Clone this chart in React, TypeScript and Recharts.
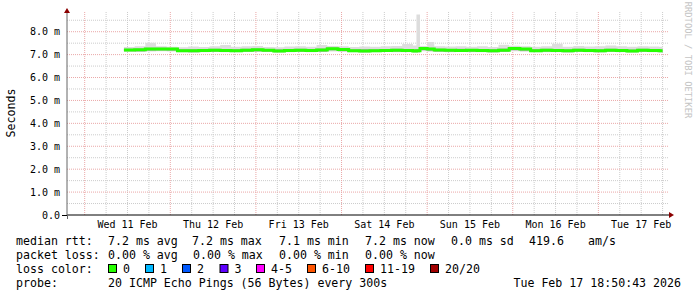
import { ComposedChart, Area, Line, XAxis, YAxis, CartesianGrid } from 'recharts'

// hours since Wed 11 Feb 00:00
const hours = [
  11, 14, 17, 20, 23, 26, 29, 32, 35, 38, 41, 44, 47, 50, 53, 56, 59, 62, 65, 68, 71, 74, 77, 80, 83, 86, 89, 92,
  93, 94, 96, 98,
  101, 104, 107, 110, 113, 116, 119, 122, 125, 128, 131, 134, 137, 140, 143, 146, 149, 152, 155, 158, 161, 162,
]

// median rtt in ms
const median = [
  7.2, 7.21, 7.24, 7.25, 7.24, 7.17, 7.17, 7.18, 7.19, 7.18, 7.17, 7.19, 7.21, 7.19, 7.16, 7.18, 7.19, 7.18, 7.2, 7.26, 7.22, 7.17, 7.16, 7.17, 7.18, 7.19, 7.18, 7.16,
  7.17, 7.27, 7.24, 7.2,
  7.19, 7.18, 7.19, 7.18, 7.17, 7.19, 7.27, 7.24, 7.17, 7.19, 7.18, 7.17, 7.19, 7.18, 7.17, 7.19, 7.18, 7.16, 7.19, 7.18, 7.17, 7.17,
]

// outer smoke (min / max of the 20 pings)
const smokeHi = [
  7.33, 7.36, 7.52, 7.36, 7.34, 7.32, 7.35, 7.33, 7.36, 7.42, 7.34, 7.37, 7.38, 7.33, 7.32, 7.35, 7.37, 7.34, 7.42, 7.38, 7.36, 7.33, 7.35, 7.34, 7.36, 7.38, 7.46, 7.4,
  8.75, 7.38, 7.55, 7.36,
  7.35, 7.37, 7.34, 7.36, 7.33, 7.43, 7.39, 7.36, 7.34, 7.36, 7.47, 7.34, 7.38, 7.35, 7.36, 7.4, 7.36, 7.34, 7.37, 7.35, 7.34, 7.34,
]
const smokeLo = [
  7.13, 7.12, 7.14, 7.15, 7.14, 7.1, 7.09, 7.1, 7.11, 7.1, 7.1, 7.11, 7.12, 7.11, 7.09, 7.1, 7.11, 7.1, 7.11, 7.14, 7.13, 7.1, 7.09, 7.1, 7.11, 7.1, 7.1, 7.09,
  7.09, 7.15, 7.13, 7.12,
  7.1, 7.11, 7.1, 7.1, 7.09, 7.11, 7.15, 7.13, 7.1, 7.1, 7.1, 7.09, 7.11, 7.1, 7.1, 7.11, 7.1, 7.09, 7.11, 7.1, 7.1, 7.1,
]

// inner (darker) smoke
const innerHi = [
  7.26, 7.27, 7.3, 7.3, 7.29, 7.24, 7.25, 7.23, 7.26, 7.24, 7.25, 7.26, 7.27, 7.24, 7.23, 7.25, 7.26, 7.24, 7.27, 7.31, 7.28, 7.23, 7.24, 7.23, 7.25, 7.26, 7.25, 7.23,
  7.24, 7.32, 7.3, 7.26,
  7.25, 7.26, 7.25, 7.24, 7.23, 7.27, 7.32, 7.29, 7.24, 7.26, 7.25, 7.23, 7.26, 7.24, 7.23, 7.26, 7.25, 7.22, 7.26, 7.24, 7.23, 7.23,
]
const innerLo = [
  7.15, 7.14, 7.17, 7.18, 7.17, 7.11, 7.1, 7.12, 7.13, 7.11, 7.11, 7.13, 7.14, 7.12, 7.1, 7.12, 7.12, 7.11, 7.13, 7.19, 7.15, 7.11, 7.1, 7.11, 7.12, 7.12, 7.12, 7.1,
  7.1, 7.19, 7.16, 7.13,
  7.12, 7.12, 7.12, 7.11, 7.1, 7.12, 7.19, 7.16, 7.11, 7.12, 7.11, 7.1, 7.12, 7.11, 7.1, 7.12, 7.11, 7.1, 7.12, 7.11, 7.1, 7.1,
]

const dayTicks = [12, 36, 60, 84, 108, 132, 156]
const dayLabels = ['Wed 11 Feb', 'Thu 12 Feb', 'Fri 13 Feb', 'Sat 14 Feb', 'Sun 15 Feb', 'Mon 16 Feb', 'Tue 17 Feb']
const midnights = [0, 24, 48, 72, 96, 120, 144]
const sixHours = [6, 12, 18, 30, 36, 42, 54, 60, 66, 78, 84, 90, 102, 108, 114, 126, 132, 138, 150, 156, 162]
const yTicks = [0, 1, 2, 3, 4, 5, 6, 7, 8]
const yMajor = [1, 2, 3, 4, 5, 6, 7, 8]
const yMinor = [0.5, 1.5, 2.5, 3.5, 4.5, 5.5, 6.5, 7.5, 8.5]

const lossLabels = ['0', '1', '2', '3', '4-5', '6-10', '11-19', '20/20']
const lossColors = ['#26ff00', '#00b8ff', '#0059ff', '#5e00ff', '#ff00ff', '#ff5500', '#ff0000', '#a10000']

const rtt = ['7.2 ms avg', '7.2 ms max', '7.1 ms min', '7.2 ms now', '0.0 ms sd', '419.6', 'am/s']
const loss = ['0.00 % avg', '0.00 % max', '0.00 % min', '0.00 % now']

const data = hours.map((t, i) => ({
  t,
  median: median[i],
  smoke: [smokeLo[i], smokeHi[i]],
  inner: [innerLo[i], innerHi[i]],
}))

const mono = 'DejaVu Sans Mono'

// x positions of legend columns
const rttX = [108, 192, 279, 365, 451, 529, 588]
const lossX = [108, 193, 279, 365]
const boxX = [108, 145, 182, 219.5, 256, 307, 365, 430]

const App = () => {
  return (
    <div style={{ position: 'absolute', left: 0, top: 0, width: 697, height: 297, background: '#fff' }}>
      <ComposedChart width={697} height={297} data={data} margin={{ top: 12, right: 28, bottom: 52, left: 0 }}>
        <CartesianGrid horizontal={false} verticalValues={sixHours} stroke="#cccccc" strokeDasharray="1 1" />
        <CartesianGrid vertical={false} horizontalValues={yMinor} stroke="#cccccc" strokeDasharray="1 1" />
        <CartesianGrid horizontal={false} verticalValues={midnights} stroke="#eaa8a8" strokeDasharray="1 1" />
        <CartesianGrid vertical={false} horizontalValues={yMajor} stroke="#eaa8a8" strokeDasharray="1 1" />
        <XAxis
          dataKey="t"
          type="number"
          domain={[-4.96, 163.8]}
          allowDataOverflow
          ticks={dayTicks}
          interval={0}
          tickFormatter={(v: number) => dayLabels[dayTicks.indexOf(v)]}
          tickLine={false}
          tickSize={0}
          tickMargin={6}
          height={30}
          axisLine={{ stroke: '#000' }}
          tick={{ fontFamily: mono, fontSize: 10, fill: '#000' }}
        />
        <YAxis
          type="number"
          domain={[0, 8.86]}
          allowDataOverflow
          ticks={yTicks}
          interval={0}
          tickFormatter={(v: number) => (v === 0 ? '0.0' : `${v.toFixed(1)} m`)}
          tickLine={false}
          tickSize={0}
          tickMargin={7}
          width={67}
          axisLine={{ stroke: '#666' }}
          tick={{ fontFamily: mono, fontSize: 10, fill: '#000' }}
        />
        <Area dataKey="smoke" type="stepAfter" stroke="none" fill="#dddddd" fillOpacity={1} isAnimationActive={false} activeDot={false} />
        <Area dataKey="inner" type="stepAfter" stroke="none" fill="#b0b0b0" fillOpacity={1} isAnimationActive={false} activeDot={false} />
        <Line dataKey="median" type="stepAfter" stroke="#26ff00" strokeWidth={3} dot={false} isAnimationActive={false} />
      </ComposedChart>

      {/* rrdtool decorations and the text legend */}
      <svg width={697} height={297} style={{ position: 'absolute', left: 0, top: 0, pointerEvents: 'none' }}>
        <line x1={62} y1={215.5} x2={67} y2={215.5} stroke="#000" />
        <line x1={67.5} y1={215} x2={67.5} y2={219} stroke="#666" />
        <polygon points="64,13 70,13 67,8" fill="#8b0000" />
        <polygon points="669,212 669,218 674,215" fill="#8b0000" />
        <text
          transform="translate(15,113) rotate(-90)"
          textAnchor="middle"
          fontFamily={mono}
          fontSize={11.6}
          fill="#000"
        >
          Seconds
        </text>
        <text
          transform="translate(685,60) rotate(90)"
          textAnchor="middle"
          fontFamily={mono}
          fontSize={8.8}
          fill="#c4c4c4"
        >
          RRDTOOL / TOBI OETIKER
        </text>

        <g fontFamily={mono} fontSize={11.6} fill="#000">
          <text x={16} y={245}>median rtt:</text>
          {rtt.map((s, i) => (
            <text key={s} x={rttX[i]} y={245}>{s}</text>
          ))}
          <text x={16} y={259}>packet loss:</text>
          {loss.map((s, i) => (
            <text key={s} x={lossX[i]} y={259}>{s}</text>
          ))}
          <text x={16} y={273}>loss color:</text>
          {lossLabels.map((s, i) => (
            <g key={s}>
              <rect x={boxX[i] + 0.5} y={264.5} width={8} height={8} fill={lossColors[i]} stroke="#000" strokeWidth={1} />
              <text x={boxX[i] + 15} y={273}>{s}</text>
            </g>
          ))}
          <text x={16} y={287}>probe:</text>
          <text x={108} y={287}>20 ICMP Echo Pings (56 Bytes) every 300s</text>
          <text x={681} y={287} textAnchor="end">Tue Feb 17 18:50:43 2026</text>
        </g>
      </svg>
    </div>
  )
}

export default App
